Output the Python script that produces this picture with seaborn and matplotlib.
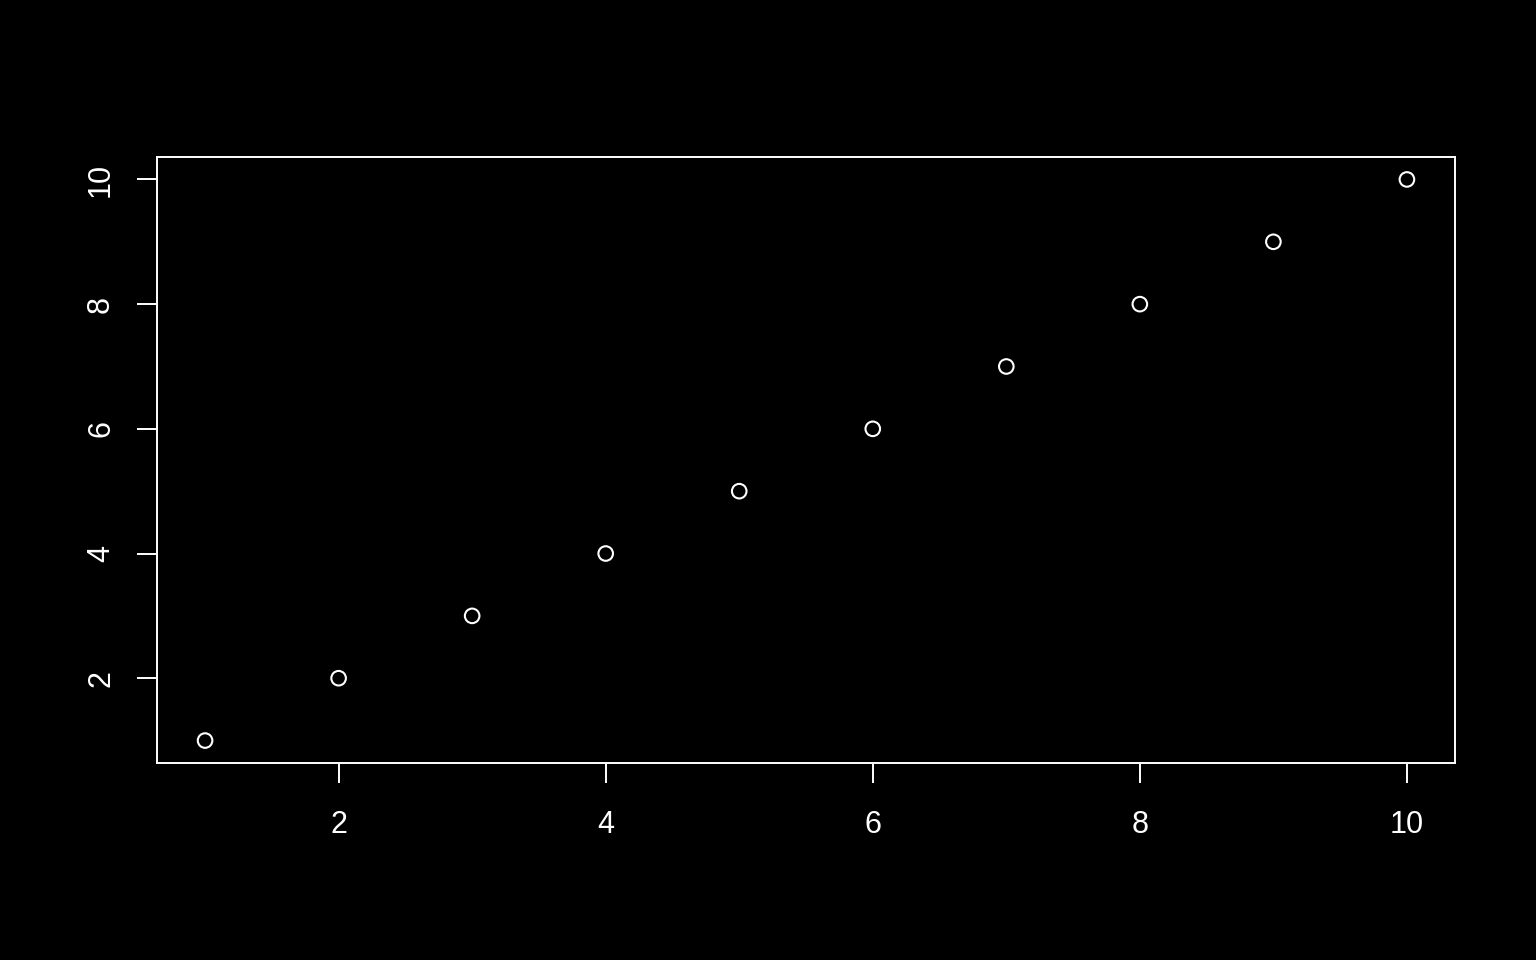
import numpy as np
import pandas as pd
import matplotlib.pyplot as plt
import seaborn as sns

x_vals = [1, 2, 3, 4, 5, 6, 7, 8, 9, 10]
y_vals = [1, 2, 3, 4, 5, 6, 7, 8, 9, 10]
x_ticks = [2, 4, 6, 8, 10]
y_ticks = [2, 4, 6, 8, 10]

df = pd.DataFrame({"x": x_vals, "y": y_vals})

sns.set_style("dark")
plt.rcParams['font.family'] = ['Liberation Sans', 'DejaVu Sans']

fig = plt.figure(figsize=(15.36, 9.6), dpi=100, facecolor="black")
ax = fig.add_axes([157/1536, 1-763/960, (1455-157)/1536, (763-157)/960])
ax.set_facecolor("black")

sns.scatterplot(data=df, x="x", y="y", ax=ax, s=110, marker="o",
                facecolors="none", edgecolor="white", linewidth=1.5)

# R-style 4% padding
ax.set_xlim(0.64, 10.36)
ax.set_ylim(0.64, 10.36)
ax.set_xticks(x_ticks)
ax.set_yticks(y_ticks)
ax.set_xlabel("")
ax.set_ylabel("")
ax.grid(False)

for sp in ax.spines.values():
    sp.set_visible(True)
    sp.set_color("white")
    sp.set_linewidth(1.4)

ax.tick_params(axis="both", direction="out", length=14.5, width=1.4, color="white",
               labelcolor="white", labelsize=22, bottom=True, left=True)
ax.tick_params(axis="x", pad=19)
ax.tick_params(axis="y", pad=15)
for lab in ax.get_yticklabels():
    lab.set_rotation(90)
    lab.set_va("center")

fig.savefig("out.png", dpi=100, facecolor="black")
